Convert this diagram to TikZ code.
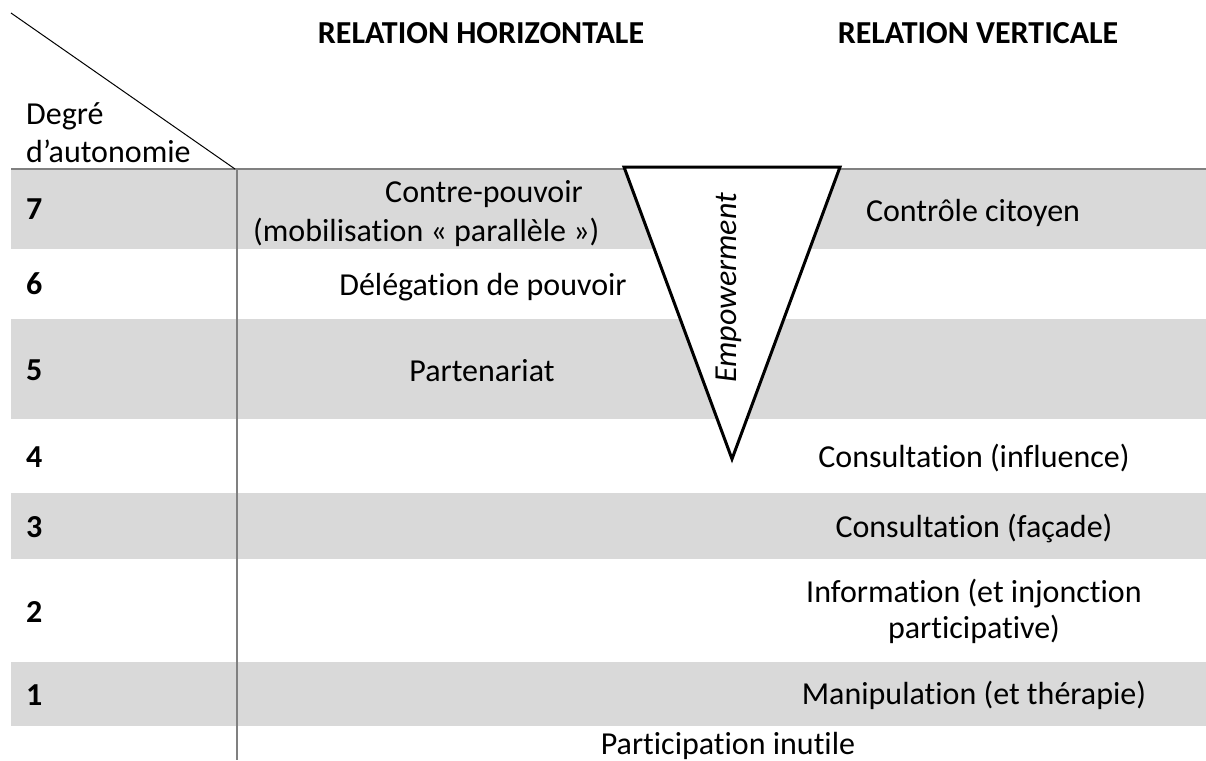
\documentclass[tikz,border=0pt]{standalone}
\usepackage{fontspec}
\setmainfont{Carlito}[RawFeature={-liga;-clig;-dlig;-calt}]
\definecolor{band}{HTML}{D9D9D9}
\definecolor{rulegray}{HTML}{808080}
\begin{document}
\begin{tikzpicture}[x=1pt,y=-1pt,
  txt/.style={inner sep=0pt, font=\fontsize{32}{38}\selectfont, anchor=base},
  hdr/.style={inner sep=0pt, font=\fontsize{32}{38}\selectfont\bfseries, anchor=base},
  num/.style={inner sep=0pt, font=\fontsize{32}{38}\selectfont\bfseries, anchor=base west},
  gridline/.style={draw=rulegray, line width=1.5pt},
  funnel/.style={draw=black, fill=white, line width=3pt, line join=miter}]
\useasboundingbox (0,0) rectangle (1206,760);
% bands
\fill[band] (11,169) rectangle (1206,249);
\fill[band] (11,319) rectangle (1206,419);
\fill[band] (11,493) rectangle (1206,559);
\fill[band] (11,662) rectangle (1206,726);
% grid lines
\coordinate (hl) at (11,169);
\coordinate (hr) at (1206,169);
\coordinate (vt) at (237,169);
\coordinate (vb) at (237,760);
\coordinate (dgA) at (11,13);
\coordinate (dgB) at (235,169);
\draw[gridline] (hl) -- (hr);
\draw[gridline] (vt) -- (vb);
\draw[black, line width=1pt] (dgA) -- (dgB);
% headers
\node[hdr] (hh) at (481,44) {RELATION HORIZONTALE};
\node[hdr] (hv) at (978,44) {RELATION VERTICALE};
\node[inner sep=0pt, font=\fontsize{32}{38}\selectfont, anchor=base west, align=left] (deg) at (26,162) {Degré\\d’autonomie};
% numbers
\node[num] (n7) at (26,219) {7};
\node[num] (n6) at (26,294) {6};
\node[num] (n5) at (26,380) {5};
\node[num] (n4) at (26,467) {4};
\node[num] (n3) at (26,537) {3};
\node[num] (n2) at (26,622) {2};
\node[num] (n1) at (26,705) {1};
% funnel
\coordinate (fa) at (624,167);
\coordinate (fb) at (840,167);
\coordinate (fc) at (732,459);
\draw[funnel] (fa) -- (fb) -- (fc) -- cycle;
\node[inner sep=0pt, font=\fontsize{32}{38}\selectfont\itshape, rotate=90, anchor=base] (emp) at (736,288) {Empowerment};
% horizontal column
\node[inner sep=0pt, font=\fontsize{32}{39}\selectfont, anchor=base west, align=left] (cp) at (253,241) {\hspace*{132pt}Contre-pouvoir\\(mobilisation « parallèle »)};
\node[txt] (dp) at (483,295) {Délégation de pouvoir};
\node[txt] (pa) at (482,381) {Partenariat};
% vertical column
\node[txt] (cc) at (973,221) {Contrôle citoyen};
\node[txt] (ci) at (974,467) {Consultation (influence)};
\node[txt] (cf) at (974,537) {Consultation (façade)};
\node[inner sep=0pt, font=\fontsize{32}{36}\selectfont, anchor=base, align=center] (inf) at (974,638) {Information (et injonction\\participative)};
\node[txt] (ma) at (974,704) {Manipulation (et thérapie)};
\node[txt] (pi) at (728,754) {Participation inutile};
\end{tikzpicture}
\end{document}
